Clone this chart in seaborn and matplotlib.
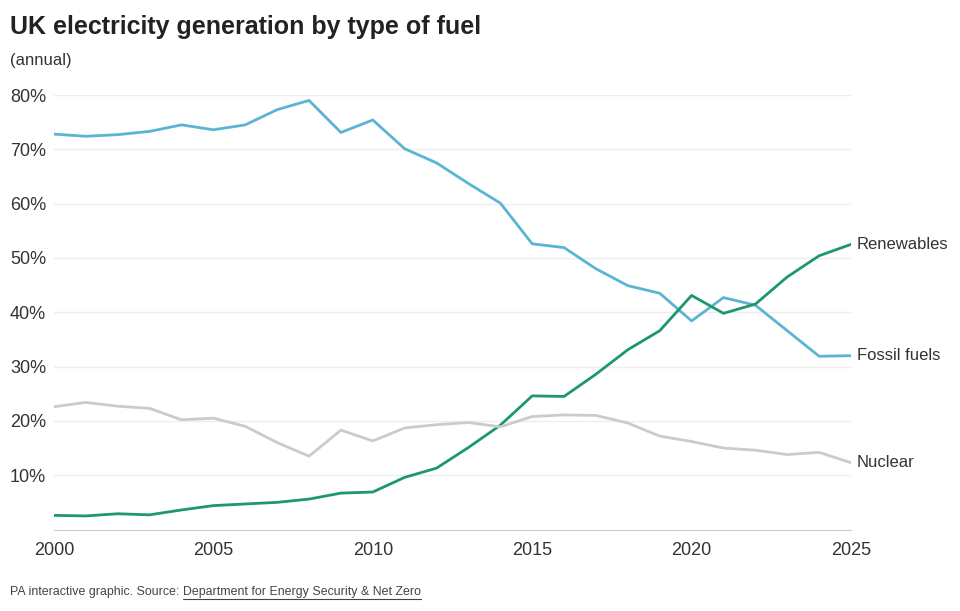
import pandas as pd
import seaborn as sns
import matplotlib.pyplot as plt

# Share of UK electricity generation (%)
years = list(range(2000, 2026))
fossil = [72.8, 72.4, 72.7, 73.3, 74.5, 73.6, 74.5, 77.3, 79.0, 73.1, 75.4, 70.1, 67.5,
          63.7, 60.1, 52.6, 51.9, 48.0, 44.9, 43.5, 38.4, 42.7, 41.3, 36.6, 31.9, 32.0]
renewables = [2.6, 2.5, 2.9, 2.7, 3.6, 4.4, 4.7, 5.0, 5.6, 6.7, 6.9, 9.6, 11.3,
              15.1, 19.2, 24.6, 24.5, 28.6, 33.1, 36.6, 43.1, 39.8, 41.5, 46.5, 50.4, 52.5]
nuclear = [22.6, 23.4, 22.7, 22.3, 20.2, 20.5, 19.0, 16.0, 13.5, 18.3, 16.3, 18.7, 19.3,
           19.7, 18.9, 20.8, 21.1, 21.0, 19.6, 17.2, 16.2, 15.0, 14.6, 13.8, 14.2, 12.3]

series_names = ["Fossil fuels", "Renewables", "Nuclear"]
colors = {"Fossil fuels": "#5ab4d3", "Renewables": "#1c9770", "Nuclear": "#cbcbcb"}
y_ticks = [10, 20, 30, 40, 50, 60, 70, 80]
x_ticks = [2000, 2005, 2010, 2015, 2020, 2025]

df = pd.DataFrame({"year": years * 3,
                   "share": fossil + renewables + nuclear,
                   "fuel": [n for n in series_names for _ in years]})

sns.set_style("white")
plt.rcParams["font.family"] = ["Liberation Sans", "DejaVu Sans"]
text_col = "#333333"

fig = plt.figure(figsize=(9.6, 6.11), dpi=100)
ax = fig.add_axes([54 / 960, 1 - 529.5 / 611, (851 - 54) / 960, (529.5 - 95) / 611])

sns.lineplot(data=df, x="year", y="share", hue="fuel", palette=colors,
             linewidth=2.0, legend=False, ax=ax)

ax.set_xlim(2000, 2025)
ax.set_ylim(0, 80)
ax.set_xlabel("")
ax.set_ylabel("")
ax.set_yticks(y_ticks)
ax.set_yticklabels([f"{t}%" for t in y_ticks], ha="left")
ax.set_xticks(x_ticks)
ax.set_xticklabels([str(t) for t in x_ticks])
ax.yaxis.grid(True, color="#eeeeee", linewidth=1)
ax.set_axisbelow(True)
for s in ["left", "right", "top"]:
    ax.spines[s].set_visible(False)
ax.spines["bottom"].set_color("#cccccc")
# pad is in points: put the left edge of the labels ~10 px from the figure edge
ax.tick_params(axis="y", length=0, pad=44 * 0.72, labelsize=13, labelcolor=text_col)
ax.tick_params(axis="x", length=6, color="#cccccc", width=1, pad=3,
               labelsize=13, labelcolor=text_col)

# end-of-line labels
for name, vals in zip(series_names, [fossil, renewables, nuclear]):
    ax.annotate(name, xy=(years[-1], vals[-1]), xytext=(4, 0), textcoords="offset points",
                va="center", ha="left", fontsize=12, color=text_col, annotation_clip=False)

fig.text(10 / 960, 1 - 27 / 611, "UK electricity generation by type of fuel",
         fontsize=18, fontweight="bold", color="#222222", va="center")
fig.text(10 / 960, 1 - 60 / 611, "(annual)", fontsize=12, color=text_col, va="center")

foot = fig.text(10 / 960, 1 - 592 / 611, "PA interactive graphic. Source: ",
                fontsize=8.9, color="#444444", va="center")
fig.canvas.draw()
bb = foot.get_window_extent()
x_link = bb.x1 / fig.bbox.width
link = fig.text(x_link, 1 - 592 / 611, "Department for Energy Security & Net Zero",
                fontsize=8.9, color="#444444", va="center")
fig.canvas.draw()
lb = link.get_window_extent()
y_line = (lb.y0 - 1) / fig.bbox.height
fig.add_artist(plt.Line2D([lb.x0 / fig.bbox.width, lb.x1 / fig.bbox.width], [y_line, y_line],
                          transform=fig.transFigure, color="#444444", linewidth=0.8))

fig.savefig("out.png", dpi=100)
